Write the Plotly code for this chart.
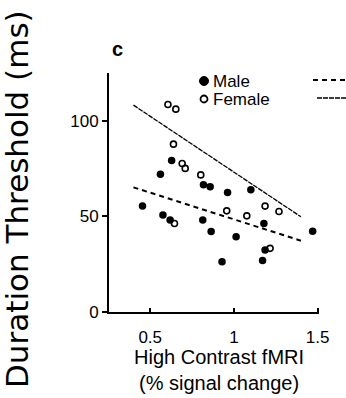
import plotly.graph_objects as go

# ---- data ----
male_x = [0.454, 0.561, 0.628, 0.576, 0.619, 0.814, 0.818, 0.858, 0.864, 0.962,
          1.013, 0.929, 1.101, 1.179, 1.171, 1.470, 1.186]
male_y = [55.5, 72.1, 79.2, 50.7, 48.1, 48.1, 66.6, 65.5, 42.1, 62.5,
          39.3, 26.3, 63.9, 46.3, 27.0, 42.2, 32.4]
female_x = [0.606, 0.653, 0.639, 0.691, 0.709, 0.802, 0.645, 0.957, 1.077,
            1.186, 1.269, 1.216]
female_y = [108.5, 106.1, 87.8, 77.7, 75.1, 71.7, 46.3, 52.9, 50.3,
            55.4, 52.6, 33.3]
fit_x = [0.40, 1.40]
male_fit = [65.2, 37.3]
female_fit = [108.2, 49.8]
x_ticks = [0.5, 1, 1.5]
x_tick_labels = ["0.5", "1", "1.5"]
y_ticks = [0, 50, 100]
y_tick_labels = ["0", "50", "100"]
legend_labels = ["Male", "Female"]

FONT = "Liberation Sans, Arial, sans-serif"

fig = go.Figure()
fig.add_trace(go.Scatter(x=male_x, y=male_y, mode="markers",
                         marker=dict(symbol="circle", size=7.5, color="black"),
                         showlegend=False))
fig.add_trace(go.Scatter(x=female_x, y=female_y, mode="markers",
                         marker=dict(symbol="circle-open", size=6, color="black",
                                     line=dict(width=1.6)),
                         showlegend=False))
fig.add_trace(go.Scatter(x=fit_x, y=male_fit, mode="lines",
                         line=dict(color="black", width=2, dash="5px,4px"),
                         showlegend=False))
fig.add_trace(go.Scatter(x=fit_x, y=female_fit, mode="lines",
                         line=dict(color="black", width=1.3, dash="5px,1px"),
                         showlegend=False))

fig.update_xaxes(range=[0.254, 1.508], tickvals=x_ticks, ticktext=x_tick_labels,
                 ticks="inside", ticklen=4, tickwidth=1.5, tickcolor="black",
                 showline=True, linecolor="black", linewidth=2,
                 showgrid=False, zeroline=False, ticklabelstandoff=9,
                 tickfont=dict(family=FONT, size=17, color="black"))
fig.update_yaxes(range=[0, 125], tickvals=y_ticks, ticktext=y_tick_labels,
                 ticks="outside", ticklen=5, tickwidth=1.5, tickcolor="black",
                 showline=True, linecolor="black", linewidth=2,
                 showgrid=False, zeroline=False,
                 tickfont=dict(family=FONT, size=17, color="black"))

# plot area: px 109..319 horizontally, 73..312 vertically
L, R, T, B = 109, 27, 73, 86
W, H = 346, 398
pw = W - L - R
ph = H - T - B

def px(xp):
    return (xp - L) / pw

def py(yp):
    return (H - B - yp) / ph

def ann(text, x, y, size, xanchor="center", family=FONT, **kw):
    return dict(text=text, x=px(x), y=py(y), xref="paper", yref="paper",
                xanchor=xanchor, yanchor="middle", showarrow=False,
                font=dict(family=family, size=size, color="black",
                          weight=kw.pop("weight", "normal")), **kw)

annotations = [
    ann("c", 117.5, 49, 20, weight="bold"),
    ann("High Contrast fMRI<br>(% signal change)", 219, 370, 20),
    ann("Duration Threshold (ms)", 17, 199, 31, family="DejaVu Sans", textangle=-90),
    ann(legend_labels[0], 212, 81, 17, xanchor="left", borderpad=0),
    ann(legend_labels[1], 212, 99.5, 17, xanchor="left", borderpad=0),
]

shapes = [
    dict(type="circle", xref="paper", yref="paper", xsizemode="pixel", ysizemode="pixel",
         xanchor=px(204), yanchor=py(81), x0=-4.5, x1=4.5, y0=-4.5, y1=4.5,
         fillcolor="black", line=dict(color="black", width=1)),
    dict(type="circle", xref="paper", yref="paper", xsizemode="pixel", ysizemode="pixel",
         xanchor=px(204), yanchor=py(99), x0=-3.5, x1=3.5, y0=-3.5, y1=3.5,
         fillcolor="white", line=dict(color="black", width=1.8)),
    dict(type="line", xref="paper", yref="paper", x0=px(313), x1=px(360),
         y0=py(80), y1=py(80), line=dict(color="black", width=2, dash="5px,4px")),
    dict(type="line", xref="paper", yref="paper", x0=px(317), x1=px(360),
         y0=py(98), y1=py(98), line=dict(color="black", width=1.3, dash="5px,1px")),
]

fig.update_layout(width=W, height=H, margin=dict(l=L, r=R, t=T, b=B),
                  paper_bgcolor="white", plot_bgcolor="white",
                  annotations=annotations, shapes=shapes, showlegend=False)

fig.write_html("out.html")
